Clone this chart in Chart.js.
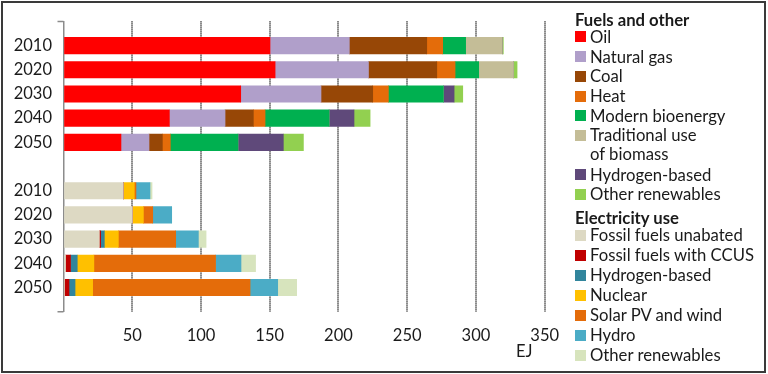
<!DOCTYPE html>
<html>
<head>
<meta charset="utf-8">
<script src="https://cdn.jsdelivr.net/npm/chart.js@4.4.1/dist/chart.umd.min.js"></script>
<style>
  html, body { margin: 0; padding: 0; background: #fff; }
  #frame { position: absolute; left: 1px; top: 1px; width: 765px; height: 372px; box-sizing: border-box; border: 2px solid #3a3a3a; }
  #c { position: absolute; left: 0; top: 0; }
  .lg { position: absolute; font-family: Lato, "Open Sans", sans-serif; font-size: 16.7px; color: #1a1a1a; line-height: 20px; white-space: pre; }
  .hd { font-weight: bold; }
  .sw { position: absolute; width: 11px; height: 11px; }
  #ej { position: absolute; left: 516px; top: 341px; font-family: Lato, sans-serif; font-size: 16.5px; color: #1a1a1a; line-height: 20px; }
</style>
</head>
<body>
<div id="frame"></div>
<canvas id="c" width="768" height="374"></canvas>
<div id="ej">EJ</div>
<div id="legend"></div>
<script>
// ---- Data ----
const years = ['2010', '2020', '2030', '2040', '2050'];
const xTicks = [50, 100, 150, 200, 250, 300, 350];

// Fuels and other (EJ)
const oil          = [150.2, 153.9, 128.9, 77.0, 41.8];
const naturalGas   = [57.7, 67.9, 58.4, 40.5, 20.4];
const coal         = [56.3, 49.7, 37.6, 20.6, 9.7];
const heat         = [11.6, 13.3, 11.4, 8.5, 5.8];
const modernBio    = [16.7, 17.2, 40.0, 46.6, 49.2];
const tradBiomass  = [26.6, 25.3, 0, 0, 0];
const hydrogenFuel = [0, 0, 7.8, 18.1, 33.0];
const otherRenFuel = [0.8, 2.6, 6.3, 11.7, 14.6];

// Electricity use (EJ)
const fossilUnabated = [43.5, 50.1, 26.1, 1.5, 0.5];
const fossilCCUS     = [0, 0, 0.9, 3.6, 3.5];
const hydrogenElec   = [0, 0, 2.7, 4.9, 4.4];
const nuclear        = [8.0, 8.0, 10.2, 12.1, 12.8];
const solarWind      = [1.2, 6.8, 41.7, 88.5, 114.5];
const hydro          = [10.2, 13.8, 16.5, 18.5, 20.1];
const otherRenElec   = [1.5, 0, 5.6, 10.6, 13.8];

const fuelSeries = [
  { name: 'Oil', data: oil, color: '#FF0000' },
  { name: 'Natural gas', data: naturalGas, color: '#B09FCA' },
  { name: 'Coal', data: coal, color: '#974706' },
  { name: 'Heat', data: heat, color: '#E46C0A' },
  { name: 'Modern bioenergy', data: modernBio, color: '#00B050' },
  { name: 'Traditional use\nof biomass', data: tradBiomass, color: '#C4BD97' },
  { name: 'Hydrogen-based', data: hydrogenFuel, color: '#5F497A' },
  { name: 'Other renewables', data: otherRenFuel, color: '#92D050' }
];
const elecSeries = [
  { name: 'Fossil fuels unabated', data: fossilUnabated, color: '#DDD9C3' },
  { name: 'Fossil fuels with CCUS', data: fossilCCUS, color: '#C00000' },
  { name: 'Hydrogen-based', data: hydrogenElec, color: '#31859C' },
  { name: 'Nuclear', data: nuclear, color: '#FFC000' },
  { name: 'Solar PV and wind', data: solarWind, color: '#E46C0A' },
  { name: 'Hydro', data: hydro, color: '#4BACC6' },
  { name: 'Other renewables', data: otherRenElec, color: '#D7E4BD' }
];

// categories: blank, fuel years, blank, electricity years, blank
const labels = [''].concat(years, [''], years, ['']);
const N = labels.length;

const datasets = [];
fuelSeries.forEach(s => {
  const d = new Array(N).fill(null);
  s.data.forEach((v, i) => { d[1 + i] = v; });
  datasets.push({ label: s.name, data: d, backgroundColor: s.color, stack: 's' });
});
elecSeries.forEach(s => {
  const d = new Array(N).fill(null);
  s.data.forEach((v, i) => { d[7 + i] = v; });
  datasets.push({ label: s.name, data: d, backgroundColor: s.color, stack: 's' });
});

const bracketPlugin = {
  id: 'bracket',
  afterDraw(chart) {
    const a = chart.chartArea, ctx = chart.ctx;
    ctx.save();
    ctx.strokeStyle = '#8c8c8c';
    ctx.lineWidth = 1.5;
    ctx.beginPath();
    ctx.moveTo(a.left - 6, a.top); ctx.lineTo(a.left, a.top);
    ctx.moveTo(a.left - 6, a.bottom); ctx.lineTo(a.left, a.bottom);
    ctx.stroke();
    ctx.restore();
  }
};

new Chart(document.getElementById('c'), {
  type: 'bar',
  data: { labels, datasets },
  plugins: [bracketPlugin],
  options: {
    responsive: false,
    animation: false,
    devicePixelRatio: 1,
    indexAxis: 'y',
    barThickness: 16.5,
    layout: { padding: { left: 3.5, top: 10.3, right: 223.3, bottom: 22.3 } },
    plugins: { legend: { display: false }, tooltip: { enabled: false } },
    scales: {
      x: {
        stacked: true, min: 0, max: 350,
        afterBuildTicks: (scale) => { scale.ticks = [0].concat(xTicks).map(v => ({ value: v })); },
        afterFit: (scale) => { scale.height = 40; },
        ticks: { padding: 14.5, color: '#1a1a1a', font: { family: 'Lato', size: 16.5 },
                 callback: (v) => v === 0 ? '' : v },
        grid: { drawTicks: false, lineWidth: 2,
                color: (ctx) => (ctx.tick && ctx.tick.value === 0) ? 'rgba(0,0,0,0)' : '#404040' },
        border: { display: false, dash: [1, 1] }
      },
      y: {
        stacked: true, offset: false,
        afterFit: (scale) => { scale.width = 60; },
        ticks: { padding: 11.5, color: '#1a1a1a', font: { family: 'Lato', size: 16.5 }, autoSkip: false },
        grid: { display: false, drawTicks: false },
        border: { display: true, color: '#8c8c8c', width: 1.5 }
      }
    }
  }
});

// ---- HTML legend ----
const legend = document.getElementById('legend');
function addText(txt, x, cy, bold) {
  const el = document.createElement('div');
  el.className = 'lg' + (bold ? ' hd' : '');
  el.textContent = txt;
  el.style.left = x + 'px';
  el.style.top = (cy - 10) + 'px';
  legend.appendChild(el);
  return el;
}
function addSwatch(color, cy) {
  const sw = document.createElement('div');
  sw.className = 'sw';
  sw.style.background = color;
  sw.style.left = '575px';
  sw.style.top = (cy - 5.5) + 'px';
  legend.appendChild(sw);
}
addText('Fuels and other', 575, 20, true);
let cy = 36.7;
fuelSeries.forEach(s => {
  addSwatch(s.color, cy);
  const el = addText(s.name, 590, cy, false);
  if (s.name.indexOf('\n') >= 0) { el.style.lineHeight = '19px'; el.style.top = (cy - 9.5) + 'px'; cy += 19; }
  cy += 19.8;
});
addText('Electricity use', 575, 218.3, true);
cy = 235;
elecSeries.forEach(s => {
  addSwatch(s.color, cy);
  addText(s.name, 590, cy, false);
  cy += 20;
});
</script>
</body>
</html>
